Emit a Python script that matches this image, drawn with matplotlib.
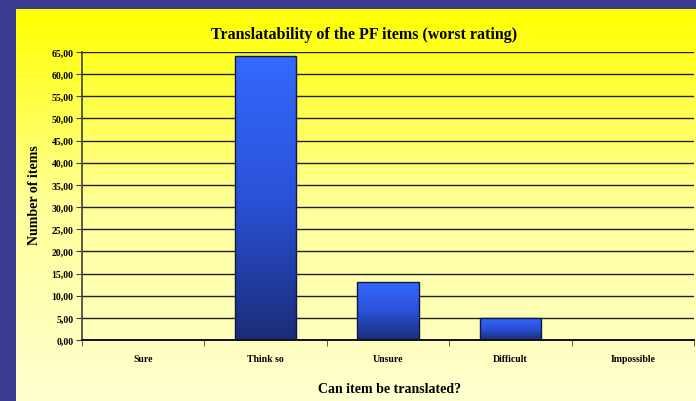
import matplotlib.pyplot as plt
from matplotlib.colors import LinearSegmentedColormap
from matplotlib.ticker import FuncFormatter, FixedLocator
import numpy as np

# Daten
categories = ["Sure", "Think so", "Unsure", "Difficult", "Impossible"]
values = [0, 64, 13, 5, 0]
y_ticks = [0, 5, 10, 15, 20, 25, 30, 35, 40, 45, 50, 55, 60, 65]

W, H = 696, 402
fig = plt.figure(figsize=(W / 100, H / 100), dpi=100)
fig.patch.set_facecolor("#3b3b91")

plt.rcParams['font.family'] = ['Liberation Serif', 'DejaVu Serif']

# gelber Hintergrund mit Verlauf
bg = fig.add_axes([16 / W, 0, (W - 16) / W, (H - 10) / H])
bg_cmap = LinearSegmentedColormap.from_list("bg", ["#ffff00", "#ffff99", "#ffffd0"])
grad = np.linspace(0, 1, 256).reshape(-1, 1)
bg.imshow(grad, cmap=bg_cmap, aspect="auto", extent=[0, 1, 0, 1], origin="upper")
bg.set_axis_off()

# Plotbereich
ax = fig.add_axes([82 / W, (H - 341) / H, 612 / W, 288 / H])
ax.set_facecolor("none")
x = np.arange(len(categories))
bars = ax.bar(x, values, width=0.5, color="none", edgecolor="#101840", linewidth=1.0, zorder=3)

bar_cmap = LinearSegmentedColormap.from_list("bar", ["#3468ff", "#2a52d8", "#1a2c78"])
for b, v in zip(bars, values):
    if v <= 0:
        continue
    im = ax.imshow(grad, cmap=bar_cmap, aspect="auto", origin="upper",
                   extent=[b.get_x(), b.get_x() + b.get_width(), 0, v], zorder=2)
    im.set_clip_path(b)

ax.set_xlim(-0.5, len(categories) - 0.5)
ax.set_ylim(0, 65)
ax.set_yticks(y_ticks)
ax.yaxis.set_major_formatter(FuncFormatter(lambda v, p: f"{v:.2f}".replace(".", ",")))
ax.grid(axis="y", color="#202020", linewidth=1.0, zorder=1)
ax.set_axisbelow(True)

ax.set_xticks(x)
ax.set_xticklabels(categories)
ax.xaxis.set_minor_locator(FixedLocator(np.arange(-0.5, len(categories), 1.0)))
ax.tick_params(axis="x", which="major", length=0, pad=10, labelsize=7)
ax.tick_params(axis="x", which="minor", length=4, color="#404040", direction="out")
ax.tick_params(axis="y", length=4, color="#404040", labelsize=7, pad=2)
for lab in ax.get_xticklabels() + ax.get_yticklabels():
    lab.set_fontweight("bold")

for s in ["top", "right"]:
    ax.spines[s].set_visible(False)
ax.spines["left"].set_color("#404040")
ax.spines["bottom"].set_color("#101010")
ax.spines["left"].set_linewidth(1.2)
ax.spines["bottom"].set_linewidth(1.4)

fig.text(34 / W, 1 - 195 / H, "Number of items", rotation=90,
         ha="center", va="center", fontsize=10, fontweight="bold")
fig.text(390 / W, 1 - 390 / H, "Can item be translated?",
         ha="center", va="center", fontsize=10, fontweight="bold")
fig.text(364 / W, 1 - 35 / H, "Translatability of the PF items (worst rating)",
         ha="center", va="center", fontsize=11.5, fontweight="bold")

plt.savefig("out.png", dpi=100)
